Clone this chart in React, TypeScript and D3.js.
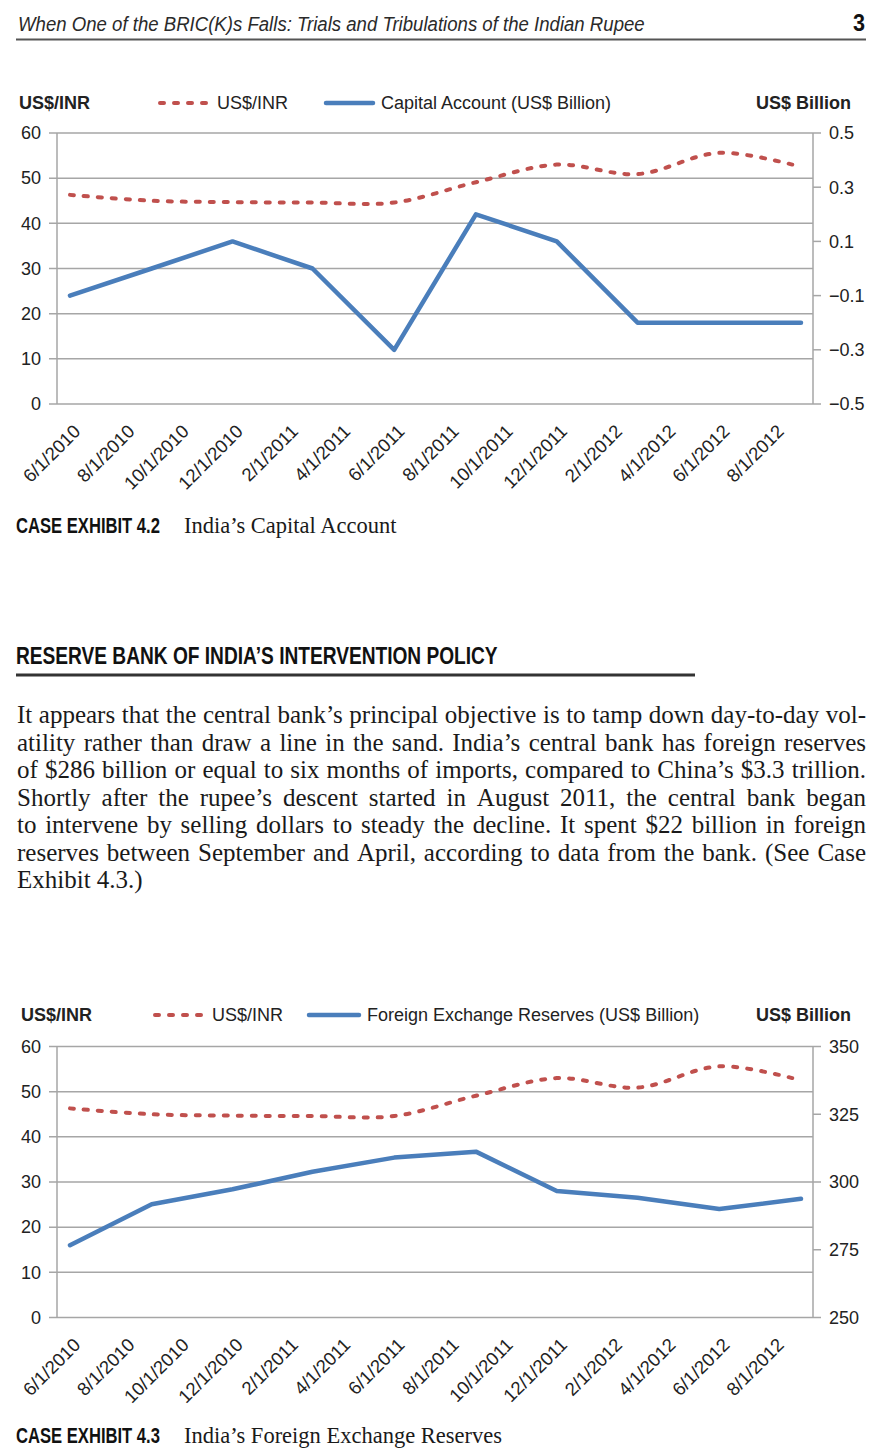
import React from 'react';
import * as d3 from 'd3';

// ---------- data ----------
const xTickLabels = ['6/1/2010', '8/1/2010', '10/1/2010', '12/1/2010', '2/1/2011', '4/1/2011', '6/1/2011', '8/1/2011', '10/1/2011', '12/1/2011', '2/1/2012', '4/1/2012', '6/1/2012', '8/1/2012'];
const quarterDates = ['6/1/2010', '9/1/2010', '12/1/2010', '3/1/2011', '6/1/2011', '9/1/2011', '12/1/2011', '3/1/2012', '6/1/2012', '9/1/2012'];
const usdInr = [46.3, 45.0, 44.7, 44.6, 44.6, 49.1, 53.0, 50.9, 55.6, 52.5];
const capitalAccount = [-0.1, 0.0, 0.1, 0.0, -0.3, 0.2, 0.1, -0.2, -0.2, -0.2];
const fxReserves = [276.7, 291.8, 297.3, 303.8, 309.0, 311.2, 296.7, 294.2, 290.0, 293.8];
const leftTicks = [0, 10, 20, 30, 40, 50, 60];
const capitalTicks = [-0.5, -0.3, -0.1, 0.1, 0.3, 0.5];
const fxTicks = [250, 275, 300, 325, 350];

const paragraphLines = [
  'It appears that the central bank\u2019s principal objective is to tamp down day-to-day vol-',
  'atility rather than draw a line in the sand. India\u2019s central bank has foreign reserves',
  'of $286 billion or equal to six months of imports, compared to China\u2019s $3.3 trillion.',
  'Shortly after the rupee\u2019s descent started in August 2011, the central bank began',
  'to intervene by selling dollars to steady the decline. It spent $22 billion in foreign',
  'reserves between September and April, according to data from the bank. (See Case',
  'Exhibit 4.3.)',
];

// ---------- helpers ----------
const parse = d3.utcParse('%m/%d/%Y');
const SANS = "'Liberation Sans', Arial, sans-serif";
const SERIF = "'Liberation Serif', 'Times New Roman', serif";
const RED = '#c0504d';
const BLUE = '#4a7ebb';
const GRID = '#a6a6a6';
const DASH = '4 10';

let _ctx: CanvasRenderingContext2D | null = null;
function measure(t: string, font: string) {
  if (!_ctx) _ctx = document.createElement('canvas').getContext('2d');
  _ctx!.font = font;
  return _ctx!.measureText(t).width;
}

function fmtSigned(v: number) {
  const s = Math.abs(v).toFixed(1);
  return v < 0 ? '\u2212' + s : s;
}

// Sans text squeezed horizontally to a target width (condensed look)
function Condensed({ x, y, width, size, bold, italic, fill, children }: {
  x: number; y: number; width: number; size: number; bold?: boolean; italic?: boolean; fill: string; children: string;
}) {
  const font = `${italic ? 'italic ' : ''}${bold ? 'bold ' : ''}${size}px 'Liberation Sans'`;
  const natural = measure(children, font);
  const sx = width / natural;
  return (
    <text
      transform={`translate(${x},${y}) scale(${sx},1)`}
      fontFamily={SANS}
      fontSize={size}
      fontWeight={bold ? 'bold' : 'normal'}
      fontStyle={italic ? 'italic' : 'normal'}
      fill={fill}
    >
      {children}
    </text>
  );
}

type ChartProps = {
  top: number;
  legendY: number;
  titleX: number;
  redX: [number, number];
  blueX: [number, number];
  blueLabel: string;
  rightValues: number[];
  rightDomain: [number, number];
  rightTicks: number[];
  rightFmt: (v: number) => string;
};

function Chart(p: ChartProps) {
  const L = 57, R = 813, H = 271;
  const bottom = p.top + H;
  const x = d3.scaleUtc().domain([parse('6/1/2010')!, parse('9/1/2012')!]).range([70, 801]);
  const yL = d3.scaleLinear().domain([0, 60]).range([bottom, p.top]);
  const yR = d3.scaleLinear().domain(p.rightDomain).range([bottom, p.top]);
  const dates = quarterDates.map((d) => parse(d)!);

  const redLine = d3.line<number>()
    .x((_, i) => x(dates[i]))
    .y((d) => yL(d))
    .curve(d3.curveCatmullRom.alpha(0.5));
  const blueLine = d3.line<number>()
    .x((_, i) => x(dates[i]))
    .y((d) => yR(d));

  const ly = p.legendY;
  return (
    <g fontFamily={SANS}>
      {/* legend */}
      <text x={p.titleX} y={ly} dy="0.35em" fontSize={18} fontWeight="bold" fill="#222">US$/INR</text>
      <line x1={p.redX[0]} x2={p.redX[1]} y1={ly} y2={ly} stroke={RED} strokeWidth={4} strokeDasharray={DASH} strokeLinecap="round" />
      <text x={p.redX[1] + 5} y={ly} dy="0.35em" fontSize={18} fill="#222">US$/INR</text>
      <line x1={p.blueX[0]} x2={p.blueX[1]} y1={ly} y2={ly} stroke={BLUE} strokeWidth={4.5} strokeLinecap="round" />
      <text x={p.blueX[1] + 8} y={ly} dy="0.35em" fontSize={18} fill="#222">{p.blueLabel}</text>
      <text x={851} y={ly} dy="0.35em" fontSize={18} fontWeight="bold" fill="#222" textAnchor="end">US$ Billion</text>

      {/* gridlines */}
      {leftTicks.map((t) => (
        <line key={'g' + t} x1={L - 8} x2={R} y1={yL(t)} y2={yL(t)} stroke={GRID} strokeWidth={1.5} />
      ))}
      {leftTicks.map((t) => (
        <text key={'lt' + t} x={41} y={yL(t)} dy="0.35em" fontSize={18} fill="#222" textAnchor="end">{t}</text>
      ))}
      {/* axes */}
      <line x1={L} x2={L} y1={p.top} y2={bottom} stroke={GRID} strokeWidth={1.5} />
      <line x1={R} x2={R} y1={p.top} y2={bottom} stroke={GRID} strokeWidth={1.5} />
      {p.rightTicks.map((t) => (
        <g key={'rt' + t}>
          <line x1={R} x2={R + 8} y1={yR(t)} y2={yR(t)} stroke={GRID} strokeWidth={1.5} />
          <text x={829} y={yR(t)} dy="0.35em" fontSize={18} fill="#222">{p.rightFmt(t)}</text>
        </g>
      ))}
      {/* x labels */}
      {xTickLabels.map((lab) => (
        <text
          key={lab}
          transform={`translate(${x(parse(lab)!) + 7},${bottom + 24}) rotate(-45)`}
          fontSize={18.5}
          fill="#222"
          textAnchor="end"
          dy="0.35em"
        >
          {lab}
        </text>
      ))}
      {/* series */}
      <path d={blueLine(p.rightValues) || ''} fill="none" stroke={BLUE} strokeWidth={4.5} strokeLinejoin="round" strokeLinecap="round" />
      <path d={redLine(usdInr) || ''} fill="none" stroke={RED} strokeWidth={4} strokeDasharray={DASH} strokeLinecap="round" />
    </g>
  );
}

function Paragraph({ x0, x1, y0, lh, size }: { x0: number; x1: number; y0: number; lh: number; size: number }) {
  const font = `${size}px 'Liberation Serif'`;
  return (
    <g fontFamily={SERIF} fontSize={size} fill="#1a1a1a">
      {paragraphLines.map((line, li) => {
        const y = y0 + li * lh;
        const last = li === paragraphLines.length - 1;
        if (last) return <text key={li} x={x0} y={y}>{line}</text>;
        const words = line.split(' ');
        const widths = words.map((w) => measure(w, font));
        const total = d3.sum(widths);
        const gap = (x1 - x0 - total) / (words.length - 1);
        let cx = x0;
        return (
          <text key={li} y={y}>
            {words.map((w, i) => {
              const el = <tspan key={i} x={cx}>{w}</tspan>;
              cx += widths[i] + gap;
              return el;
            })}
          </text>
        );
      })}
    </g>
  );
}

export default function App() {
  return (
    <svg width={886} height={1452} style={{ position: 'absolute', left: 0, top: 0, background: '#fff' }}>
      <rect width={886} height={1452} fill="#fff" />
      {/* header */}
      <Condensed x={18} y={31} width={627} size={21} italic fill="#2a2a2a">
        When One of the BRIC(K)s Falls: Trials and Tribulations of the Indian Rupee
      </Condensed>
      <Condensed x={853} y={31} width={12} size={23} bold fill="#111">3</Condensed>
      <line x1={16} x2={866} y1={39.5} y2={39.5} stroke="#555" strokeWidth={2} />

      <Chart
        top={133}
        legendY={103}
        titleX={19}
        redX={[160, 212]}
        blueX={[326, 373]}
        blueLabel="Capital Account (US$ Billion)"
        rightValues={capitalAccount}
        rightDomain={[-0.5, 0.5]}
        rightTicks={capitalTicks}
        rightFmt={fmtSigned}
      />

      <Condensed x={16} y={533} width={144} size={22} bold fill="#111">CASE EXHIBIT 4.2</Condensed>
      <text x={184} y={533} fontFamily={SERIF} fontSize={22.5} fill="#1a1a1a">India’s Capital Account</text>

      <Condensed x={16} y={664} width={482} size={24} bold fill="#111">RESERVE BANK OF INDIA’S INTERVENTION POLICY</Condensed>
      <line x1={16} x2={695} y1={675} y2={675} stroke="#333" strokeWidth={3} />

      <Paragraph x0={17} x1={866} y0={723} lh={27.5} size={25} />

      <Chart
        top={1046.5}
        legendY={1015}
        titleX={21}
        redX={[155, 207]}
        blueX={[309, 359]}
        blueLabel="Foreign Exchange Reserves (US$ Billion)"
        rightValues={fxReserves}
        rightDomain={[250, 350]}
        rightTicks={fxTicks}
        rightFmt={(v) => String(v)}
      />

      <Condensed x={16} y={1443} width={144} size={22} bold fill="#111">CASE EXHIBIT 4.3</Condensed>
      <text x={184} y={1443} fontFamily={SERIF} fontSize={22.5} fill="#1a1a1a">India’s Foreign Exchange Reserves</text>
    </svg>
  );
}
